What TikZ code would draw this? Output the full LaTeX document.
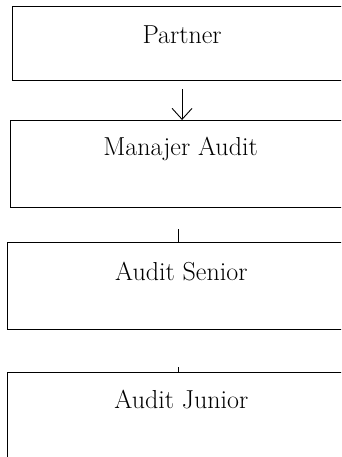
\documentclass[tikz,border=0pt]{standalone}
\usepackage{tikz}
\usetikzlibrary{arrows.meta}

\begin{document}
\begin{tikzpicture}[x=1pt, y=-1pt,
    kotak/.style={draw, line width=1.1pt, anchor=north west, inner sep=0pt,
      minimum width=#1, font=\fontsize{26}{31}\selectfont},
    kotak/.default=340pt,
    panah/.style={line width=0.9pt, -{Straight Barb[length=11pt, width=20pt]}},
    garis/.style={line width=1pt}
  ]
  \useasboundingbox (0,0) rectangle (341,457);
  \clip (0,0) rectangle (341,457);

  % 1. kotak-kotak jabatan
  \node[kotak, text height=37pt, text depth=37pt] (partner) at (11.5,6) {Partner};
  \node[kotak, text height=35pt, text depth=52pt] (manajer) at (10,120) {Manajer Audit};
  \node[kotak=347pt, text height=38pt, text depth=49pt] (senior) at (7.3,242) {Audit Senior};
  \node[kotak=347pt, text height=36pt, text depth=60pt] (junior) at (7.3,372) {Audit Junior};

  % 2. panah dan garis penghubung
  \draw[panah] ([yshift=-8pt]partner.south) -- (partner.south |- manajer.north);
  \coordinate (atas_senior) at ([xshift=-3pt, yshift=13pt]senior.north);
  \coordinate (atas_junior) at ([xshift=-3pt, yshift=5pt]junior.north);
  \draw[garis] (atas_senior) -- (atas_senior |- senior.north);
  \draw[garis] (atas_junior) -- (atas_junior |- junior.north);
\end{tikzpicture}
\end{document}
